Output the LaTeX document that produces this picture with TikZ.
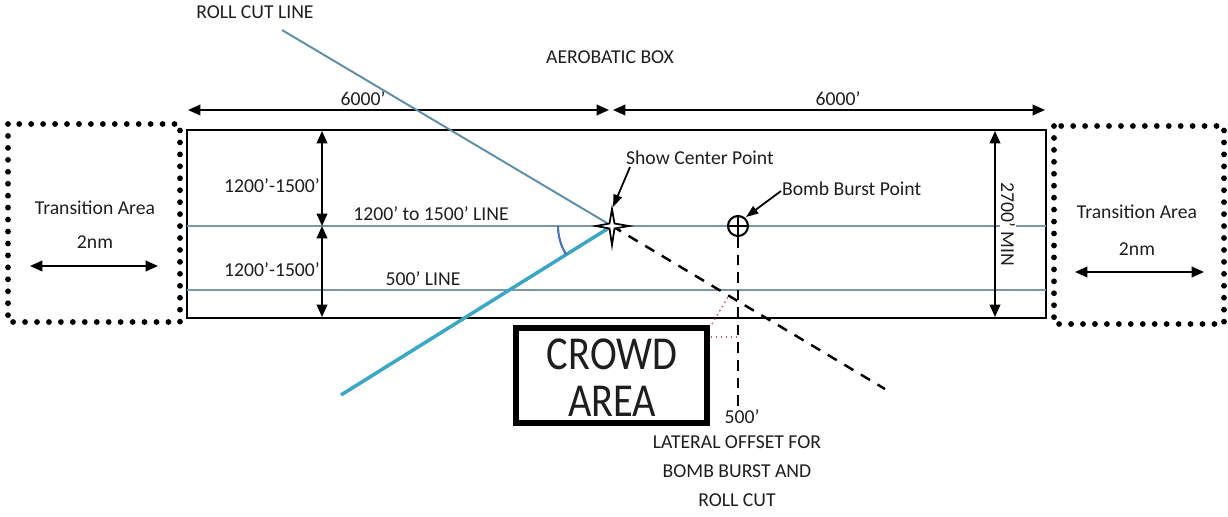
\documentclass[tikz,border=0pt]{standalone}
\usepackage{fontspec}
\setmainfont{Carlito}
\usetikzlibrary{arrows.meta,calc}
\definecolor{linegray}{HTML}{7A98A8}
\definecolor{rollcut}{HTML}{5E8DA8}
\definecolor{cyanline}{HTML}{3BA6C6}
\definecolor{arcblue}{HTML}{4472C4}
\definecolor{txt}{HTML}{1E1E1E}
\definecolor{reddot}{HTML}{D05060}
\tikzset{
  lbl/.style={font=\fontsize{11.2}{16.4}\selectfont, text=txt, inner sep=1pt},
  dimarrow/.style={line width=1.1pt, {Triangle[length=7pt,width=6pt]}-{Triangle[length=7pt,width=6pt]}},
  ptrarrow/.style={line width=1pt, -{Triangle[length=7pt,width=5pt]}},
  dotbox/.style={line width=3.3pt, line cap=round, dash pattern=on 0pt off 6.8pt},
  guide/.style={linegray, line width=0.9pt},
  bigtxt/.style={font=\fontsize{23}{28}\selectfont, text=txt, inner sep=0pt},
}
\begin{document}
\begin{tikzpicture}[x=0.02cm, y=-0.02cm]
\useasboundingbox (0,0) rectangle (1228,517);
% main box
\draw[line width=1pt] (187,130) rectangle (1046,318);
% horizontal lines
\coordinate (l1L) at (187,226); \coordinate (l1R) at (1046,226);
\coordinate (l2L) at (187,290); \coordinate (l2R) at (1046,290);
\draw[guide] (l1L) -- (l1R);
\draw[guide] (l2L) -- (l2R);
% transition areas
\draw[dotbox] (8,124) rectangle (180,322);
\draw[dotbox] (1054,126) rectangle (1224,324);
\node[lbl] (tl) at (95,208) {Transition Area};
\node[lbl] (tl2) at (95,242) {2nm};
\coordinate (tla) at (30,266); \coordinate (tlb) at (158,266);
\draw[dimarrow] (tla) -- (tlb);
\node[lbl] (tr) at (1137,212) {Transition Area};
\node[lbl] (tr2) at (1137,249) {2nm};
\coordinate (tra) at (1075,272); \coordinate (trb) at (1204,272);
\draw[dimarrow] (tra) -- (trb);
% top dimensions
\coordinate (d0) at (188,110); \coordinate (d1) at (609,110);
\coordinate (d2) at (613,110); \coordinate (d3) at (1045,110);
\draw[dimarrow] (d0) -- (d1);
\draw[dimarrow] (d2) -- (d3);
\node[lbl] (w1) at (363,99) {6000’};
\node[lbl] (w2) at (838,99) {6000’};
\node[lbl] (ab) at (610,57) {AEROBATIC BOX};
% left dimension
\coordinate (v0) at (322,131); \coordinate (v1) at (322,226); \coordinate (v2) at (322,317);
\draw[dimarrow] (v0) -- (v1);
\draw[dimarrow] (v1) -- (v2);
\node[lbl] (h1) at (272,186) {1200’-1500’};
\node[lbl] (h2) at (272,270) {1200’-1500’};
\node[lbl] (ln1) at (431,214) {1200’ to 1500’ LINE};
\node[lbl] (ln2) at (423,279) {500’ LINE};
% 2700 min
\coordinate (m0) at (995,131); \coordinate (m1) at (995,317);
\draw[dimarrow] (m0) -- (m1);
\node[lbl, rotate=-90, fill=white, inner sep=0.5pt] (mn) at (1008,224) {2700’ MIN};
% roll cut line
\coordinate (sc) at (612,226);
\coordinate (rc0) at (282,30);
\coordinate (rc1) at (885,389);
\node[lbl] (rcl) at (255,12) {ROLL CUT LINE};
\draw[rollcut, line width=1.1pt] (rc0) -- (sc);
\draw[line width=1.4pt, dash pattern=on 6pt off 5pt] (sc) -- (rc1);
% cyan line
\coordinate (cy) at (341,395);
\draw[cyanline, line width=2pt] (sc) -- (cy);
% angle arc
\draw[arcblue, line width=1.2pt] (sc) ++(180:54) arc[start angle=180, end angle=148, radius=54];
% crowd area
\draw[line width=3pt] (516,328) rectangle (707,423);
\node[bigtxt] (crowd) at (612,354) {\scalebox{1}[1.17]{CROWD}};
\node[bigtxt] (area) at (612,401) {\scalebox{1}[1.17]{AREA}};
% red dotted
\coordinate (r0) at (712,324); \coordinate (r1) at (728,297);
\coordinate (r2) at (711,337); \coordinate (r3) at (736,337);
\draw[reddot, line width=0.8pt, dotted] (r0) -- (r1);
\draw[reddot, line width=0.8pt, dotted] (r2) -- (r3);
% bomb burst
\coordinate (bb) at (738,226);
\draw[line width=1.2pt, fill=white] (bb) circle (10);
\draw[line width=1.1pt] ($(bb)+(-10,0)$) -- ($(bb)+(10,0)$);
\draw[line width=1.1pt] ($(bb)+(0,-10)$) -- ($(bb)+(0,10)$);
\coordinate (bbd0) at (738,237); \coordinate (bbd1) at (738,410);
\draw[line width=1.2pt, dash pattern=on 6pt off 4pt] (bbd0) -- (bbd1);
\node[lbl] (o5) at (742,417) {500’};
\node[lbl, align=center] (lat) at (737,471) {LATERAL OFFSET FOR\\BOMB BURST AND\\ROLL CUT};
% star
\draw[line width=1pt, fill=white] (612,209) -- (614.5,223.5) -- (629,226) -- (614.5,228.5) -- (612,245) -- (609.5,228.5) -- (596,226) -- (609.5,223.5) -- cycle;
% labels with pointers
\node[lbl, anchor=west] (scl) at (624,158) {Show Center Point};
\coordinate (sca) at (630,167); \coordinate (scb) at (613,207);
\draw[ptrarrow] (sca) -- (scb);
\node[lbl, anchor=west] (bbl) at (780,189) {Bomb Burst Point};
\coordinate (bba) at (781,191); \coordinate (bbb) at (746,217);
\draw[ptrarrow] (bba) -- (bbb);
\end{tikzpicture}
\end{document}
